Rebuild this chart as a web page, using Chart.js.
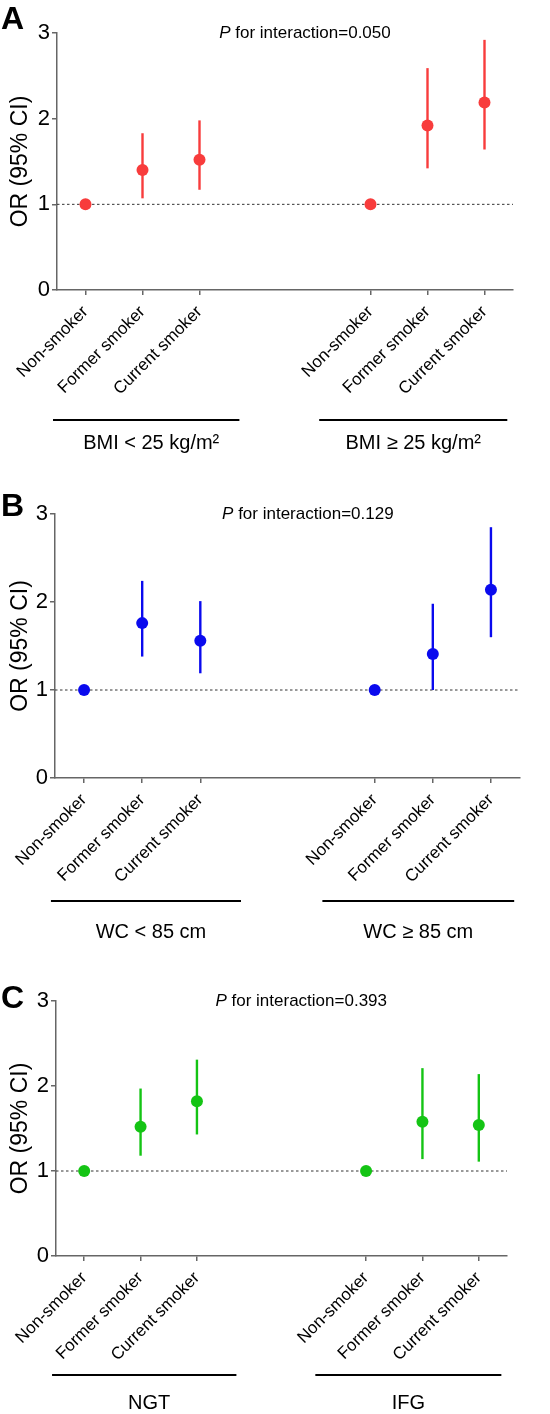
<!DOCTYPE html>
<html>
<head>
<meta charset="utf-8">
<script src="https://cdn.jsdelivr.net/npm/chart.js@4/dist/chart.umd.min.js"></script>
<style>
  html, body { margin: 0; padding: 0; background: #fff; }
  #wrap { position: relative; width: 550px; height: 1414px; }
  canvas { position: absolute; left: 0; }
</style>
</head>
<body>
<div id="wrap">
  <canvas id="chartA" width="550" height="465" style="top:0px"></canvas>
  <canvas id="chartB" width="550" height="475" style="top:470px"></canvas>
  <canvas id="chartC" width="550" height="469" style="top:945px"></canvas>
</div>
<script>
// categories (x positions on a linear axis, gap between the two groups)
const positions = [0, 1, 2, 5, 6, 7];
const smokingLabels = ['Non-smoker', 'Former smoker', 'Current smoker', 'Non-smoker', 'Former smoker', 'Current smoker'];
const yTicks = [0, 1, 2, 3];

// panel A - BMI
const orA = [1, 1.40, 1.52, 1, 1.92, 2.19];
const lowA = [1, 1.07, 1.17, 1, 1.42, 1.64];
const highA = [1, 1.83, 1.98, 1, 2.59, 2.92];
const groupsA = ['BMI < 25 kg/m\u00B2', 'BMI \u2265 25 kg/m\u00B2'];
const pA = '0.050';

// panel B - WC
const orB = [1, 1.76, 1.56, 1, 1.41, 2.14];
const lowB = [1, 1.38, 1.19, 1, 1.00, 1.60];
const highB = [1, 2.24, 2.01, 1, 1.98, 2.85];
const groupsB = ['WC < 85 cm', 'WC \u2265 85 cm'];
const pB = '0.129';

// panel C - glucose
const orC = [1, 1.52, 1.82, 1, 1.58, 1.54];
const lowC = [1, 1.18, 1.43, 1, 1.14, 1.11];
const highC = [1, 1.97, 2.31, 1, 2.21, 2.14];
const groupsC = ['NGT', 'IFG'];
const pC = '0.393';

const FONT = "'Liberation Sans', Arial, Helvetica, sans-serif";
const AXIS_COLOR = '#666';

// bracket spans under each group, in x units
const groupSpans = [[-0.57, 2.7], [4.1, 7.4]];

function makePanel(id, letter, orVals, lowVals, highVals, groups, pval, color, lay) {
    const ctx = document.getElementById(id).getContext('2d');

    const panelPlugin = {
        id: 'panelExtras',
        beforeDatasetsDraw(chart) {
            const c = chart.ctx;
            const xs = chart.scales.x;
            const ys = chart.scales.y;
            const area = chart.chartArea;
            // dotted reference line at OR = 1
            c.save();
            c.strokeStyle = '#333';
            c.lineWidth = 1;
            c.setLineDash([2.5, 2.5]);
            const y1 = ys.getPixelForValue(1);
            c.beginPath();
            c.moveTo(area.left, y1);
            c.lineTo(area.right, y1);
            c.stroke();
            c.restore();
            // error bars
            c.save();
            c.strokeStyle = color;
            c.lineWidth = 2.4;
            for (let i = 0; i < positions.length; i++) {
                if (highVals[i] === lowVals[i]) continue;
                const px = xs.getPixelForValue(positions[i]);
                c.beginPath();
                c.moveTo(px, ys.getPixelForValue(lowVals[i]));
                c.lineTo(px, ys.getPixelForValue(highVals[i]));
                c.stroke();
            }
            c.restore();
        },
        afterDraw(chart) {
            const c = chart.ctx;
            const xs = chart.scales.x;
            const ys = chart.scales.y;
            const area = chart.chartArea;
            c.save();
            // panel letter
            c.fillStyle = '#000';
            c.font = 'bold 32px ' + FONT;
            c.textAlign = 'left';
            c.textBaseline = 'alphabetic';
            c.fillText(letter, 1, lay.letterY);
            // P for interaction
            const ty = ys.getPixelForValue(3);
            c.font = 'italic 17px ' + FONT;
            const w1 = c.measureText('P').width;
            c.font = '17px ' + FONT;
            const rest = ' for interaction=' + pval;
            const w2 = c.measureText(rest).width;
            const cx = xs.getPixelForValue(3.85);
            let sx = cx - (w1 + w2) / 2;
            c.textBaseline = 'middle';
            c.font = 'italic 17px ' + FONT;
            c.fillText('P', sx, ty);
            c.font = '17px ' + FONT;
            c.fillText(rest, sx + w1, ty);
            // group brackets and labels
            c.strokeStyle = '#000';
            c.lineWidth = 2;
            c.font = '20px ' + FONT;
            c.textAlign = 'center';
            for (let g = 0; g < groups.length; g++) {
                const x0 = xs.getPixelForValue(groupSpans[g][0]);
                const x1 = xs.getPixelForValue(groupSpans[g][1]);
                const by = area.bottom + lay.bracketDy;
                c.beginPath();
                c.moveTo(x0, by);
                c.lineTo(x1, by);
                c.stroke();
                c.fillText(groups[g], (x0 + x1) / 2 + (g === 0 ? 5 : 0), area.bottom + lay.labelDy);
            }
            c.restore();
        }
    };

    return new Chart(ctx, {
        type: 'scatter',
        data: {
            datasets: [{
                data: positions.map((p, i) => ({ x: p, y: orVals[i] })),
                backgroundColor: color,
                borderColor: color,
                pointRadius: 6,
                pointHoverRadius: 6,
                borderWidth: 0
            }]
        },
        options: {
            responsive: false,
            animation: false,
            events: [],
            layout: { padding: { top: lay.padTop, right: lay.padRight, left: 0, bottom: 0 } },
            plugins: { legend: { display: false }, tooltip: { enabled: false } },
            scales: {
                x: {
                    type: 'linear',
                    min: -0.5,
                    max: 7.5,
                    afterBuildTicks: (scale) => { scale.ticks = positions.map(v => ({ value: v })); },
                    afterFit: (scale) => { scale.height = lay.xHeight; },
                    grid: { drawOnChartArea: false, drawTicks: true, tickLength: 5, color: AXIS_COLOR, lineWidth: 1.5 },
                    border: { display: true, color: AXIS_COLOR, width: 1.5 },
                    ticks: {
                        autoSkip: false,
                        minRotation: 45,
                        maxRotation: 45,
                        padding: 7,
                        color: '#000',
                        font: { family: FONT, size: 17 },
                        callback: (v) => {
                            const i = positions.indexOf(v);
                            return i >= 0 ? smokingLabels[i] : '';
                        }
                    }
                },
                y: {
                    min: 0,
                    max: 3,
                    afterBuildTicks: (scale) => { scale.ticks = yTicks.map(v => ({ value: v })); },
                    afterFit: (scale) => { scale.width = lay.yWidth; },
                    grid: { drawOnChartArea: false, drawTicks: true, tickLength: 5, color: AXIS_COLOR, lineWidth: 1.5 },
                    border: { display: true, color: AXIS_COLOR, width: 1.5 },
                    ticks: {
                        padding: 2,
                        color: '#000',
                        font: { family: FONT, size: 22 }
                    },
                    title: {
                        display: true,
                        text: 'OR (95% CI)',
                        color: '#000',
                        font: { family: FONT, size: 23 },
                        padding: { top: 7, bottom: 0 }
                    }
                }
            }
        },
        plugins: [panelPlugin]
    });
}

makePanel('chartA', 'A', orA, lowA, highA, groupsA, pA, '#f83c3c',
    { padTop: 33, padRight: 37, xHeight: 175, yWidth: 57, bracketDy: 130, labelDy: 153, letterY: 29 });
makePanel('chartB', 'B', orB, lowB, highB, groupsB, pB, '#0a0aee',
    { padTop: 44, padRight: 30, xHeight: 167, yWidth: 55, bracketDy: 123, labelDy: 154, letterY: 46 });
makePanel('chartC', 'C', orC, lowC, highC, groupsC, pC, '#14c414',
    { padTop: 56, padRight: 43, xHeight: 158, yWidth: 56, bracketDy: 119, labelDy: 147, letterY: 63 });
</script>
</body>
</html>
